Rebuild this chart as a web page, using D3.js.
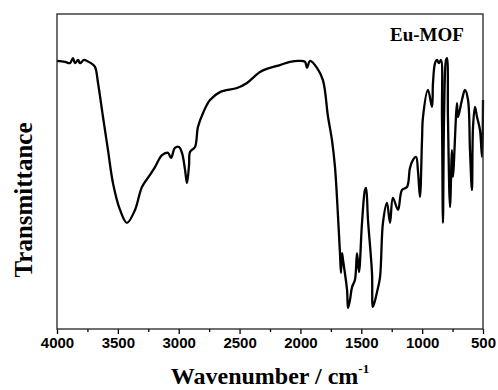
<!DOCTYPE html>
<html>
<head>
<meta charset="utf-8">
<script src="https://cdn.jsdelivr.net/npm/d3@7"></script>
<style>
  html, body { margin: 0; padding: 0; background: #fff; }
  svg { display: block; }
</style>
</head>
<body>
<svg id="chart" width="498" height="390"></svg>
<script>
// Wavenumber (cm^-1)
const wavenumber = [4000,3934,3893,3869,3852,3827,3811,3778,3754,3721,3688,3663,3622,3581,3540,3482,3425,3359,3302,3236,3195,3137,3088,3063,3031,2998,2973,2948,2932,2915,2907,2866,2842,2800,2743,2661,2521,2439,2332,2250,2168,2086,2004,1962,1946,1921,1864,1815,1773,1741,1716,1691,1675,1667,1658,1650,1617,1609,1593,1576,1552,1535,1519,1494,1470,1461,1445,1412,1404,1371,1346,1322,1289,1264,1240,1198,1166,1124,1100,1075,1050,1034,1018,1001,993,952,919,911,894,878,862,845,837,829,820,804,796,788,771,755,747,714,706,673,648,623,607,591,582,566,549,525,508,500];
// Transmittance (arbitrary units, 0 = bottom of frame, 100 = top)
const transmittance = [85.1,84.8,84.4,86.0,84.4,85.4,84.4,85.4,85.1,84.4,83.2,78.1,67.3,56.8,46.3,37.8,33.7,37.8,45.1,48.9,51.4,55.2,55.9,54.3,57.5,57.8,55.9,50.5,46.3,52.1,56.2,57.8,64.1,68.6,72.7,75.2,76.5,78.1,81.6,82.9,83.8,84.8,85.1,84.8,82.9,85.1,82.9,79.0,67.3,60.0,51.4,35.6,24.1,17.8,24.1,21.9,12.4,6.7,9.2,13.3,15.6,24.1,18.1,33.7,44.1,44.8,34.6,17.8,7.0,11.7,16.5,33.7,40.0,33.7,41.6,37.8,44.1,45.1,51.1,53.7,54.6,50.0,41.9,60.0,67.3,75.9,70.5,78.1,84.4,85.4,84.4,85.4,67.3,33.7,67.3,85.4,86.0,67.3,38.7,56.8,48.3,71.7,67.3,72.7,75.9,72.7,56.8,44.1,64.1,70.5,67.3,63.2,54.6,72.7];
const xTicks = [4000,3500,3000,2500,2000,1500,1000,500];
const xMinorTicks = [3750,3250,2750,2250,1750,1250,750];
const xLabel = "Wavenumber / cm";
const xLabelSup = "-1";
const yLabel = "Transmittance";
const seriesName = "Eu-MOF";

const svg = d3.select("#chart");
const L = 57, R = 483, T = 14, B = 329;

const x = d3.scaleLinear().domain([4000, 500]).range([L, R]);
const y = d3.scaleLinear().domain([0, 100]).range([B, T]);

const data = wavenumber.map((w, i) => ({w, t: transmittance[i]}));

// curve
svg.append("path")
  .datum(data)
  .attr("fill", "none")
  .attr("stroke", "#000")
  .attr("stroke-width", 2.3)
  .attr("stroke-linejoin", "round")
  .attr("d", d3.line().curve(d3.curveCatmullRom.alpha(0.5)).x(d => x(d.w)).y(d => y(d.t)));

// bottom axis (major + minor ticks, outward)
const axisMajor = d3.axisBottom(x).tickValues(xTicks).tickSize(5).tickPadding(3).tickFormat(d3.format("d"));
const gx = svg.append("g").attr("transform", `translate(0,${B})`).call(axisMajor);
gx.select(".domain").remove();
gx.selectAll(".tick line").attr("stroke", "#000").attr("stroke-width", 1.3);
gx.selectAll(".tick text")
  .attr("font-family", "'Liberation Sans', Arial, sans-serif")
  .attr("font-weight", "bold")
  .attr("font-size", "15px")
  .attr("fill", "#000");

const axisMinor = d3.axisBottom(x).tickValues(xMinorTicks).tickSize(3).tickFormat("");
const gm = svg.append("g").attr("transform", `translate(0,${B})`).call(axisMinor);
gm.select(".domain").remove();
gm.selectAll(".tick line").attr("stroke", "#000").attr("stroke-width", 1.3);

// frame
svg.append("rect")
  .attr("x", L).attr("y", T)
  .attr("width", R - L).attr("height", B - T)
  .attr("fill", "none")
  .attr("stroke", "#222")
  .attr("stroke-width", 1.3);

// x label
const xl = svg.append("text")
  .attr("x", (L + R) / 2)
  .attr("y", 384)
  .attr("text-anchor", "middle")
  .attr("font-family", "'Liberation Serif', 'Times New Roman', serif")
  .attr("font-weight", "bold")
  .attr("font-size", "24px")
  .attr("fill", "#000");
xl.append("tspan").text(xLabel);
xl.append("tspan").attr("dy", -11).attr("font-size", "13px").text(xLabelSup);

// y label
svg.append("text")
  .attr("transform", "translate(32,200) rotate(-90)")
  .attr("text-anchor", "middle")
  .attr("font-family", "'Liberation Serif', 'Times New Roman', serif")
  .attr("font-weight", "bold")
  .attr("font-size", "25px")
  .attr("fill", "#000")
  .text(yLabel);

// series label
svg.append("text")
  .attr("x", 390)
  .attr("y", 41)
  .attr("font-family", "'Liberation Serif', 'Times New Roman', serif")
  .attr("font-weight", "bold")
  .attr("font-size", "19px")
  .attr("fill", "#000")
  .text(seriesName);
</script>
</body>
</html>
